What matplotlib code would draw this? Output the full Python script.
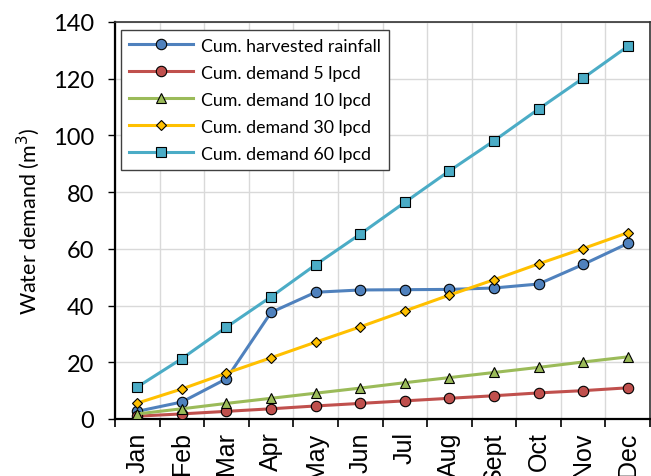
import matplotlib
matplotlib.use("Agg")
import matplotlib.pyplot as plt
import numpy as np

months = ["Jan", "Feb", "Mar", "Apr", "May", "Jun", "Jul", "Aug", "Sept", "Oct", "Nov", "Dec"]
harvested = [2.7, 6.0, 14.2, 37.6, 44.7, 45.5, 45.6, 45.7, 46.2, 47.6, 54.5, 61.9]
demand5 = [1.0, 1.8, 2.7, 3.6, 4.6, 5.5, 6.4, 7.3, 8.2, 9.2, 10.0, 11.0]
demand10 = [1.8, 3.6, 5.5, 7.3, 9.1, 10.9, 12.8, 14.6, 16.4, 18.2, 20.1, 21.9]
demand30 = [5.6, 10.6, 16.2, 21.6, 27.1, 32.5, 38.1, 43.7, 49.1, 54.7, 60.1, 65.7]
demand60 = [11.3, 21.3, 32.4, 43.1, 54.4, 65.2, 76.4, 87.5, 98.1, 109.3, 120.2, 131.4]

plt.rcParams['font.family'] = ['Lato', 'DejaVu Sans']

fig = plt.figure(figsize=(6.51, 4.77), dpi=100)
ax = fig.add_axes([0.1767, 0.1195, 0.8218, 0.8323])
x = np.arange(len(months))

lw = 2.2
ax.plot(x, harvested, color="#4F81BD", lw=lw, marker="o", ms=7.5, mfc="#4F81BD", mec="black", mew=0.8,
        label="Cum. harvested rainfall", zorder=3)
ax.plot(x, demand5, color="#C0504D", lw=lw, marker="o", ms=7.5, mfc="#C0504D", mec="black", mew=0.8,
        label="Cum. demand 5 lpcd", zorder=3)
ax.plot(x, demand10, color="#9BBB59", lw=lw, marker="^", ms=7.5, mfc="#9BBB59", mec="black", mew=0.8,
        label="Cum. demand 10 lpcd", zorder=3)
ax.plot(x, demand30, color="#FFC000", lw=lw, marker="D", ms=5, mfc="#FFC000", mec="black", mew=0.8,
        label="Cum. demand 30 lpcd", zorder=3)
ax.plot(x, demand60, color="#4BACC6", lw=lw, marker="s", ms=7.5, mfc="#4BACC6", mec="black", mew=0.8,
        label="Cum. demand 60 lpcd", zorder=3)

ax.set_xlim(-0.5, len(months) - 0.5)
ax.set_ylim(0, 140)
ax.set_yticks(np.arange(0, 141, 20))
ax.set_xticks(x)
ax.set_xticklabels(months, rotation=90, fontsize=18, family=['Liberation Sans', 'DejaVu Sans'], va="top")
ax.set_xticks(np.arange(-0.5, len(months)), minor=True)
ax.tick_params(axis="x", which="major", length=0, pad=9)
ax.tick_params(axis="x", which="minor", length=6, width=1.2, direction="out")
ax.tick_params(axis="y", labelsize=17, length=5, width=1.0, direction="out", pad=10)
ax.grid(True, axis="x", which="minor", color="#D9D9D9", lw=1.0)
ax.grid(True, axis="y", which="major", color="#D9D9D9", lw=1.0)
ax.set_axisbelow(True)

for side in ["left", "bottom"]:
    ax.spines[side].set_linewidth(1.6)
    ax.spines[side].set_color("black")
for side in ["top", "right"]:
    ax.spines[side].set_linewidth(1.2)
    ax.spines[side].set_color("#333333")

ax.set_ylabel("Water demand (m$^3$)", fontsize=15.5, labelpad=8)

leg = ax.legend(loc="upper left", bbox_to_anchor=(0.005, 0.99), fontsize=12.8, frameon=True,
                fancybox=False, edgecolor="#404040", framealpha=1, handlelength=3.6,
                borderpad=0.45, labelspacing=0.62, handletextpad=0.45, borderaxespad=0.2)
leg.get_frame().set_linewidth(1.0)

fig.savefig("out.png", dpi=100)
